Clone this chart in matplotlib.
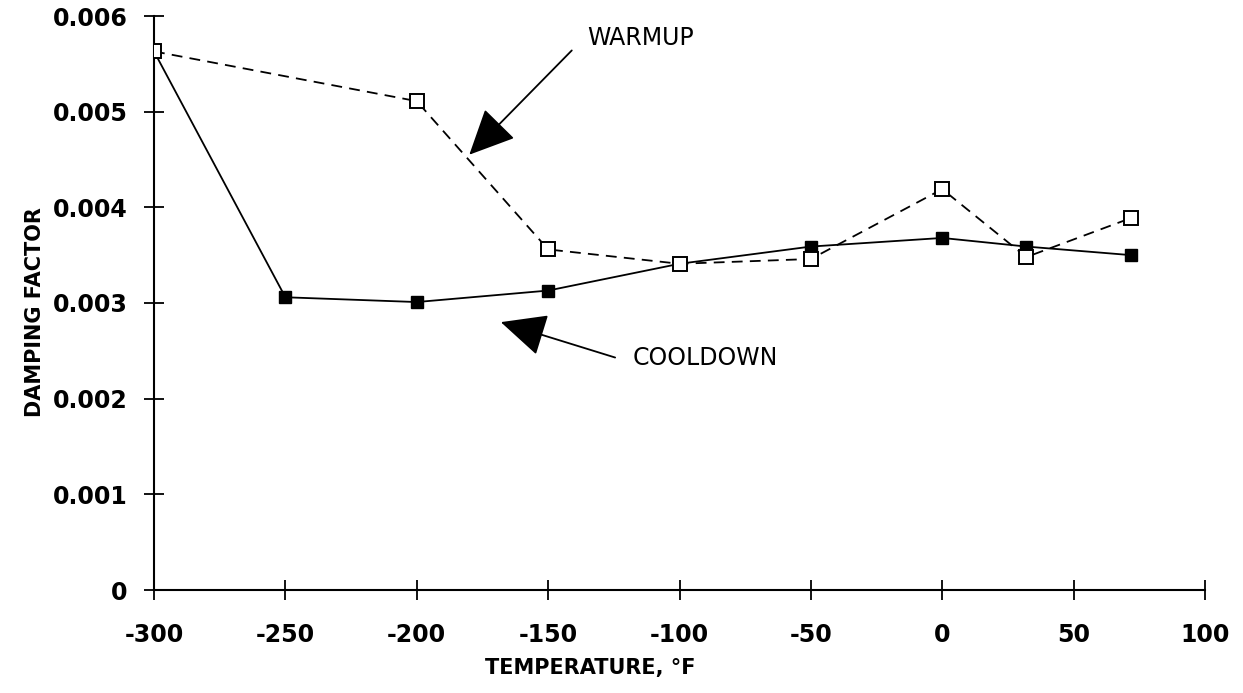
import matplotlib.pyplot as plt

# temperatures (F) and damping factor readings
temp = [-300, -250, -200, -150, -100, -50, 0, 32, 72]
cooldown = [0.00563, 0.00306, 0.00301, 0.00313, 0.00341, 0.00359, 0.00368, 0.00359, 0.00350]

temp_w = [-300, -200, -150, -100, -50, 0, 32, 72]
warmup = [0.00563, 0.00511, 0.00356, 0.00341, 0.00346, 0.00419, 0.00348, 0.00389]

xticks = [-300, -250, -200, -150, -100, -50, 0, 50, 100]
yticks = [0, 0.001, 0.002, 0.003, 0.004, 0.005, 0.006]
ylabels = ["0", "0.001", "0.002", "0.003", "0.004", "0.005", "0.006"]

plt.rcParams['font.family'] = 'DejaVu Sans'
plt.rcParams['axes.unicode_minus'] = False

fig = plt.figure(figsize=(12.43, 6.93), dpi=100)
ax = fig.add_axes([154 / 1243, 103 / 693, 1051 / 1243, 574 / 693])

# cooldown - solid, filled squares
ax.plot(temp, cooldown, color="black", lw=1.3, marker="s", ms=8.5,
        mfc="black", mec="black", zorder=3)
# warmup - dashed, open squares (on top)
ax.plot(temp_w, warmup, color="black", lw=1.3, ls=(0, (6, 4)), marker="s", ms=10,
        mfc="white", mec="black", mew=1.4, zorder=4)

ax.set_xlim(-300, 100)
ax.set_ylim(0, 0.006)
ax.set_xticks(xticks)
ax.set_yticks(yticks)
ax.set_yticklabels(ylabels)

for s in ["top", "right"]:
    ax.spines[s].set_visible(False)
for s in ["left", "bottom"]:
    ax.spines[s].set_linewidth(1.5)
    ax.spines[s].set_clip_on(False)

ax.tick_params(direction="inout", length=14, width=1.3, labelsize=17, colors="black")
for lab in ax.get_xticklabels() + ax.get_yticklabels():
    lab.set_fontweight("bold")
ax.tick_params(axis="y", pad=12)
ax.tick_params(axis="x", pad=17)

# labels
fig.text(35 / 1243, 1 - 312 / 693, "DAMPING FACTOR", rotation=90, ha="center", va="center",
         fontsize=15, fontweight="bold")
fig.text(590 / 1243, 1 - 668 / 693, "TEMPERATURE, °F", ha="center", va="center",
         fontsize=15, fontweight="bold")

# arrows
arrow = dict(arrowstyle="-|>,head_length=1.6,head_width=0.75", mutation_scale=18,
             color="black", lw=1.3, shrinkA=0, shrinkB=0)
ax.annotate("", xy=(-180, 0.00455), xytext=(-141, 0.00564), arrowprops=arrow)
ax.text(-135, 0.00577, "WARMUP", fontsize=17, ha="left", va="center")

ax.annotate("", xy=(-168, 0.0028), xytext=(-124.5, 0.00243), arrowprops=arrow)
ax.text(-118, 0.00243, "COOLDOWN", fontsize=17, ha="left", va="center")

plt.savefig("out.png", dpi=100)
